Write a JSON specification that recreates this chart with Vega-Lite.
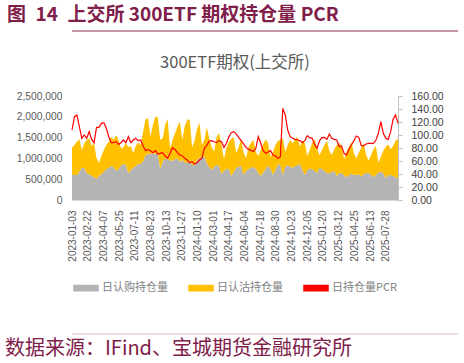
{
"$schema": "https://vega.github.io/schema/vega-lite/v6.json",
"padding": {"left": 5, "top": 6, "right": 5, "bottom": 0},
"background": "white",
"spacing": 22,
"config": {
  "view": {"stroke": null},
  "font": "Noto Sans CJK SC",
  "legend": {"layout": {"bottom": {"anchor": "middle"}}}
},
"resolve": {"scale": {"color": "independent", "x": "independent", "y": "independent"}, "legend": {"color": "independent"}, "axis": {"x": "independent", "y": "independent"}},
"vconcat": [
{
  "width": 386, "height": 20,
  "title": {"text": "图\u200214\u2002上交所 300ETF 期权持仓量 PCR", "anchor": "start", "frame": "group", "fontSize": 19, "fontWeight": "bold", "color": "#80204a", "font": "Noto Sans CJK SC", "offset": -14, "dx": -65},
  "data": {"values": [{"pos": 0}]},
  "mark": {"type": "rule", "color": "#8a2a52", "strokeWidth": 1.2},
  "encoding": {
    "y": {"field": "pos", "type": "quantitative", "scale": {"domain": [0, 1]}, "axis": null}
  }
},
{
  "width": 326, "height": 104,
  "title": {"text": "300ETF期权(上交所)", "anchor": "middle", "frame": "group", "fontSize": 16.5, "fontWeight": "normal", "color": "#595959", "font": "Noto Sans CJK SC", "offset": 20},
  "data": {"values": [
{"t":0,"call":601000,"put":657000,"pcr":107.7},
{"t":5,"call":601000,"put":721000,"pcr":128.2},
{"t":10,"call":601000,"put":801000,"pcr":130.8},
{"t":15,"call":681000,"put":785000,"pcr":112.8},
{"t":20,"call":777000,"put":425000,"pcr":94.9},
{"t":25,"call":769000,"put":593000,"pcr":100.0},
{"t":30,"call":641000,"put":801000,"pcr":94.9},
{"t":35,"call":617000,"put":865000,"pcr":105.1},
{"t":40,"call":585000,"put":713000,"pcr":93.3},
{"t":45,"call":545000,"put":833000,"pcr":88.2},
{"t":50,"call":505000,"put":497000,"pcr":111.8},
{"t":55,"call":577000,"put":321000,"pcr":111.8},
{"t":60,"call":625000,"put":433000,"pcr":117.9},
{"t":65,"call":681000,"put":521000,"pcr":119.0},
{"t":70,"call":737000,"put":585000,"pcr":110.3},
{"t":75,"call":777000,"put":625000,"pcr":97.4},
{"t":80,"call":817000,"put":705000,"pcr":88.2},
{"t":85,"call":785000,"put":657000,"pcr":88.2},
{"t":90,"call":705000,"put":857000,"pcr":89.7},
{"t":95,"call":737000,"put":705000,"pcr":85.6},
{"t":100,"call":833000,"put":409000,"pcr":88.2},
{"t":105,"call":865000,"put":401000,"pcr":92.3},
{"t":110,"call":849000,"put":529000,"pcr":88.2},
{"t":115,"call":641000,"put":625000,"pcr":97.4},
{"t":120,"call":721000,"put":577000,"pcr":88.2},
{"t":125,"call":777000,"put":345000,"pcr":92.3},
{"t":130,"call":817000,"put":481000,"pcr":94.9},
{"t":135,"call":873000,"put":513000,"pcr":91.3},
{"t":140,"call":865000,"put":457000,"pcr":92.3},
{"t":145,"call":930000,"put":713000,"pcr":83.1},
{"t":150,"call":1074000,"put":865000,"pcr":75.9},
{"t":155,"call":1098000,"put":865000,"pcr":77.9},
{"t":160,"call":1114000,"put":409000,"pcr":75.9},
{"t":165,"call":1122000,"put":681000,"pcr":72.8},
{"t":170,"call":1106000,"put":897000,"pcr":75.9},
{"t":175,"call":1130000,"put":857000,"pcr":70.8},
{"t":180,"call":737000,"put":705000,"pcr":71.8},
{"t":185,"call":930000,"put":553000,"pcr":72.8},
{"t":190,"call":994000,"put":809000,"pcr":67.7},
{"t":195,"call":978000,"put":970000,"pcr":64.1},
{"t":200,"call":946000,"put":296000,"pcr":71.8},
{"t":205,"call":946000,"put":497000,"pcr":80.5},
{"t":210,"call":986000,"put":617000,"pcr":77.9},
{"t":215,"call":994000,"put":769000,"pcr":72.8},
{"t":220,"call":921000,"put":962000,"pcr":69.2},
{"t":225,"call":962000,"put":481000,"pcr":68.2},
{"t":230,"call":905000,"put":873000,"pcr":64.1},
{"t":235,"call":881000,"put":1042000,"pcr":61.5},
{"t":240,"call":946000,"put":994000,"pcr":57.4},
{"t":245,"call":841000,"put":425000,"pcr":59.0},
{"t":250,"call":841000,"put":585000,"pcr":55.4},
{"t":255,"call":962000,"put":737000,"pcr":57.4},
{"t":260,"call":1010000,"put":849000,"pcr":61.5},
{"t":265,"call":1042000,"put":280000,"pcr":64.1},
{"t":270,"call":1042000,"put":401000,"pcr":79.5},
{"t":275,"call":881000,"put":865000,"pcr":84.1},
{"t":280,"call":785000,"put":697000,"pcr":90.8},
{"t":285,"call":721000,"put":545000,"pcr":91.3},
{"t":290,"call":801000,"put":361000,"pcr":89.7},
{"t":295,"call":841000,"put":681000,"pcr":88.2},
{"t":300,"call":817000,"put":785000,"pcr":91.3},
{"t":305,"call":625000,"put":697000,"pcr":89.7},
{"t":310,"call":705000,"put":280000,"pcr":81.0},
{"t":315,"call":745000,"put":497000,"pcr":87.2},
{"t":320,"call":753000,"put":649000,"pcr":97.4},
{"t":325,"call":577000,"put":889000,"pcr":103.6},
{"t":330,"call":681000,"put":841000,"pcr":105.1},
{"t":335,"call":777000,"put":345000,"pcr":101.5},
{"t":340,"call":801000,"put":481000,"pcr":96.4},
{"t":345,"call":825000,"put":633000,"pcr":91.3},
{"t":350,"call":601000,"put":537000,"pcr":86.2},
{"t":355,"call":697000,"put":304000,"pcr":81.0},
{"t":360,"call":745000,"put":521000,"pcr":77.9},
{"t":365,"call":769000,"put":609000,"pcr":76.4},
{"t":370,"call":801000,"put":641000,"pcr":74.4},
{"t":375,"call":745000,"put":417000,"pcr":79.5},
{"t":380,"call":657000,"put":401000,"pcr":97.4},
{"t":385,"call":577000,"put":625000,"pcr":87.2},
{"t":390,"call":665000,"put":681000,"pcr":75.9},
{"t":395,"call":745000,"put":713000,"pcr":71.8},
{"t":400,"call":825000,"put":537000,"pcr":73.8},
{"t":405,"call":753000,"put":272000,"pcr":75.9},
{"t":410,"call":601000,"put":561000,"pcr":69.2},
{"t":415,"call":721000,"put":601000,"pcr":67.7},
{"t":420,"call":865000,"put":561000,"pcr":64.1},
{"t":425,"call":841000,"put":601000,"pcr":66.7},
{"t":430,"call":601000,"put":881000,"pcr":141.0},
{"t":435,"call":801000,"put":361000,"pcr":130.8},
{"t":440,"call":833000,"put":489000,"pcr":107.7},
{"t":445,"call":801000,"put":641000,"pcr":97.4},
{"t":450,"call":777000,"put":585000,"pcr":94.9},
{"t":455,"call":809000,"put":649000,"pcr":93.3},
{"t":460,"call":841000,"put":681000,"pcr":92.3},
{"t":465,"call":865000,"put":417000,"pcr":91.3},
{"t":470,"call":721000,"put":705000,"pcr":88.2},
{"t":475,"call":601000,"put":761000,"pcr":91.3},
{"t":480,"call":721000,"put":337000,"pcr":99.0},
{"t":485,"call":753000,"put":449000,"pcr":95.9},
{"t":490,"call":745000,"put":633000,"pcr":94.9},
{"t":495,"call":697000,"put":761000,"pcr":85.6},
{"t":500,"call":641000,"put":577000,"pcr":79.5},
{"t":505,"call":785000,"put":296000,"pcr":91.3},
{"t":510,"call":737000,"put":465000,"pcr":95.9},
{"t":515,"call":705000,"put":617000,"pcr":96.4},
{"t":520,"call":641000,"put":785000,"pcr":93.3},
{"t":525,"call":641000,"put":537000,"pcr":101.5},
{"t":530,"call":673000,"put":409000,"pcr":94.9},
{"t":535,"call":705000,"put":521000,"pcr":93.3},
{"t":540,"call":577000,"put":737000,"pcr":92.3},
{"t":545,"call":641000,"put":737000,"pcr":82.0},
{"t":550,"call":657000,"put":641000,"pcr":83.1},
{"t":555,"call":593000,"put":385000,"pcr":71.8},
{"t":560,"call":545000,"put":617000,"pcr":69.2},
{"t":565,"call":601000,"put":681000,"pcr":78.5},
{"t":570,"call":633000,"put":753000,"pcr":84.6},
{"t":575,"call":601000,"put":521000,"pcr":91.3},
{"t":580,"call":601000,"put":401000,"pcr":98.5},
{"t":585,"call":625000,"put":513000,"pcr":96.4},
{"t":590,"call":561000,"put":697000,"pcr":83.6},
{"t":595,"call":625000,"put":737000,"pcr":83.1},
{"t":600,"call":641000,"put":441000,"pcr":86.2},
{"t":605,"call":657000,"put":288000,"pcr":87.2},
{"t":610,"call":601000,"put":481000,"pcr":87.2},
{"t":615,"call":545000,"put":673000,"pcr":87.2},
{"t":620,"call":609000,"put":689000,"pcr":92.3},
{"t":625,"call":657000,"put":240000,"pcr":102.6},
{"t":630,"call":681000,"put":361000,"pcr":120.5},
{"t":635,"call":649000,"put":537000,"pcr":102.6},
{"t":640,"call":529000,"put":753000,"pcr":94.9},
{"t":645,"call":593000,"put":745000,"pcr":93.3},
{"t":650,"call":601000,"put":617000,"pcr":105.1},
{"t":655,"call":577000,"put":721000,"pcr":124.1},
{"t":660,"call":545000,"put":881000,"pcr":130.8},
{"t":665,"call":521000,"put":954000,"pcr":117.9}
  ]},
  "encoding": {
    "x": {"field": "t", "type": "quantitative",
          "scale": {"domain": [0, 665], "nice": false, "zero": false},
          "axis": {"title": null, "grid": false, "ticks": false, "domainColor": "#d9d9d9",
                   "values": [0,32,64,96,128,160,192,224,256,288,320,352,384,416,448,480,512,544,576,608,640],
                   "labelExpr": "['2023-01-03','2023-02-22','2023-04-07','2023-05-25','2023-07-11','2023-08-23','2023-10-13','2023-11-27','2024-01-10','2024-03-01','2024-04-17','2024-06-04','2024-07-18','2024-08-30','2024-10-23','2024-12-05','2025-01-20','2025-03-12','2025-04-25','2025-06-13','2025-07-28'][round(datum.value/32)]",
                   "labelAngle": -90, "labelFont": "Liberation Sans", "labelFontSize": 10, "labelColor": "#595959", "labelPadding": 10, "labelOverlap": false, "labelFlush": false}}
  },
  "layer": [
    {
      "transform": [{"fold": ["call", "put"], "as": ["series", "amount"]}],
      "mark": {"type": "area", "opacity": 1, "interpolate": "linear"},
      "encoding": {
        "y": {"field": "amount", "type": "quantitative", "stack": "zero",
              "scale": {"domain": [0, 2500000], "nice": false},
              "axis": {"title": null, "grid": false, "ticks": false, "domain": false,
                       "values": [0, 500000, 1000000, 1500000, 2000000, 2500000],
                       "labelExpr": "format(datum.value, ',')",
                       "labelFont": "Liberation Sans", "labelFontSize": 10.3, "labelColor": "#595959", "labelPadding": 10, "minExtent": 67}},
        "color": {"field": "series", "type": "nominal",
                  "scale": {"domain": ["call", "put", "pcr"], "range": ["#b4b4b4", "#ffc000", "#ff0000"]},
                  "legend": {"title": null, "orient": "bottom", "direction": "horizontal", "offset": -4, "padding": 17,
                             "symbolSize": 576, "symbolType": "M-1,-0.22H1V0.22H-1Z", "labelOffset": 3, "columnPadding": 18,
                             "labelFontSize": 11, "labelColor": "#7f7f7f", "labelFont": "Noto Sans CJK SC",
                             "labelExpr": "datum.value == 'call' ? '日认购持仓量' : datum.value == 'put' ? '日认沽持仓量' : '日持仓量PCR'",
                             "encode": {"symbols": {"update": {
                               "shape": {"signal": "datum.value == 'pcr' ? 'M-1,0H1' : 'M-1,-0.22H1V0.22H-1Z'"},
                               "fill": {"signal": "datum.value == 'pcr' ? 'transparent' : scale('color', datum.value)"},
                               "stroke": {"signal": "scale('color', datum.value)"},
                               "strokeWidth": {"signal": "datum.value == 'pcr' ? 1.3 : 0"},
                               "opacity": {"value": 1}}}}}},
        "order": {"field": "series", "sort": "ascending"}
      }
    },
    {
      "transform": [{"fold": ["pcr"], "as": ["series", "ratio"]}],
      "mark": {"type": "line", "strokeWidth": 1.2, "interpolate": "linear"},
      "encoding": {
        "y": {"field": "ratio", "type": "quantitative",
              "scale": {"domain": [0, 160], "nice": false},
              "axis": {"orient": "right", "title": null, "grid": false,
                       "values": [0, 20, 40, 60, 80, 100, 120, 140, 160], "format": ".2f",
                       "domainColor": "#bfbfbf", "tickColor": "#bfbfbf", "tickSize": 4,
                       "labelFont": "Liberation Sans", "labelFontSize": 10.5, "labelColor": "#404040", "labelPadding": 9}},
        "color": {"field": "series", "type": "nominal"}
      }
    }
  ],
  "resolve": {"scale": {"y": "independent"}}
},
{
  "width": 386, "height": 20,
  "title": {"text": "数据来源：IFind、宝城期货金融研究所", "orient": "bottom", "anchor": "start", "frame": "group", "fontSize": 20, "fontWeight": "normal", "color": "#80204a", "font": "Noto Sans CJK SC", "offset": -15, "dx": -67},
  "data": {"values": [{"pos": 1}]},
  "mark": {"type": "rule", "color": "#dcb9c8", "strokeWidth": 1.2},
  "encoding": {
    "y": {"field": "pos", "type": "quantitative", "scale": {"domain": [0, 1]}, "axis": null}
  }
}
]
}
